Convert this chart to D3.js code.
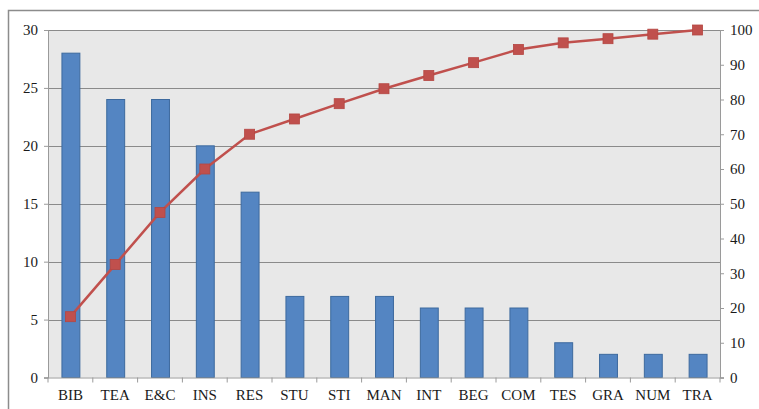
<!DOCTYPE html>
<html><head><meta charset="utf-8">
<script src="https://cdn.jsdelivr.net/npm/d3@7"></script>
<style>body{margin:0;background:#fff}svg{display:block}</style>
</head><body><svg id="c" width="759" height="409"></svg>
<script>
const categories = ["BIB","TEA","E&C","INS","RES","STU","STI","MAN","INT","BEG","COM","TES","GRA","NUM","TRA"];
const counts = [28,24,24,20,16,7,7,7,6,6,6,3,2,2,2];
const cumulative = [17.5,32.5,47.5,60,70,74.4,78.8,83.1,86.9,90.6,94.4,96.3,97.5,98.8,100];
const leftTicks = [0,5,10,15,20,25,30];
const rightTicks = [0,10,20,30,40,50,60,70,80,90,100];

const FONT = "Liberation Serif";
const svg = d3.select("#c");
const m = {l:48, r:720, t:30, b:377.5};
svg.append("rect").attr("x",8.5).attr("y",10.5).attr("width",800).attr("height",500)
  .attr("fill","#fff").attr("stroke","#8c8c8c").attr("stroke-width",1.5);
svg.append("rect").attr("x",m.l).attr("y",m.t).attr("width",m.r-m.l).attr("height",m.b-m.t).attr("fill","#e8e8e8");

const x = d3.scaleBand().domain(categories).range([m.l,m.r]);
const yL = d3.scaleLinear().domain([0,30]).range([m.b,m.t]);
const yR = d3.scaleLinear().domain([0,100]).range([m.b,m.t]);

svg.append("g").selectAll("line").data(leftTicks.filter(d=>d>0)).join("line")
  .attr("x1",m.l).attr("x2",m.r).attr("y1",d=>Math.round(yL(d))+0.5).attr("y2",d=>Math.round(yL(d))+0.5)
  .attr("stroke","#8a8a8a").attr("stroke-width",1);

const bw = x.bandwidth()*0.4;
svg.append("g").selectAll("rect").data(categories).join("rect")
  .attr("x",(d)=>x(d)+x.bandwidth()/2-bw/2+0.5)
  .attr("y",(d,i)=>yL(counts[i]))
  .attr("width",bw).attr("height",(d,i)=>yL(0)-yL(counts[i]))
  .attr("fill","#5485c2").attr("stroke","#3d6a9e").attr("stroke-width",1);

const axL = svg.append("g").attr("transform",`translate(${m.l},0)`)
  .call(d3.axisLeft(yL).tickValues(leftTicks).tickSize(4).tickPadding(6));
const axR = svg.append("g").attr("transform",`translate(${m.r},0)`)
  .call(d3.axisRight(yR).tickValues(rightTicks).tickSize(4).tickPadding(6));
const axB = svg.append("g").attr("transform",`translate(0,${m.b})`)
  .call(d3.axisBottom(x).tickSize(0).tickPadding(12));
[axL,axR,axB].forEach(a=>{
  a.attr("font-family",FONT).attr("font-size",15);
  a.selectAll("path").attr("stroke","#9a9a9a");
  a.selectAll("line").attr("stroke","#9a9a9a");
  a.selectAll("text").attr("font-family",FONT).attr("font-size",15).attr("fill","#1a1a1a");
});
axB.select("path").remove();
svg.append("line").attr("x1",m.l-4).attr("x2",m.r+4).attr("y1",m.b+0.5).attr("y2",m.b+0.5).attr("stroke","#9a9a9a");
svg.append("g").selectAll("line").data(d3.range(categories.length+1)).join("line")
  .attr("x1",i=>m.l+i*x.step()).attr("x2",i=>m.l+i*x.step())
  .attr("y1",m.b).attr("y2",m.b+5).attr("stroke","#9a9a9a");

const line = d3.line().x((d,i)=>x(categories[i])+x.bandwidth()/2).y(d=>yR(d));
svg.append("path").datum(cumulative).attr("d",line).attr("fill","none")
  .attr("stroke","#c0504d").attr("stroke-width",2.5);
svg.append("g").selectAll("rect").data(cumulative).join("rect")
  .attr("x",(d,i)=>x(categories[i])+x.bandwidth()/2-5).attr("y",d=>yR(d)-5)
  .attr("width",10).attr("height",10).attr("fill","#c0504d").attr("stroke","#b54642").attr("stroke-width",0.8);
</script></body></html>
